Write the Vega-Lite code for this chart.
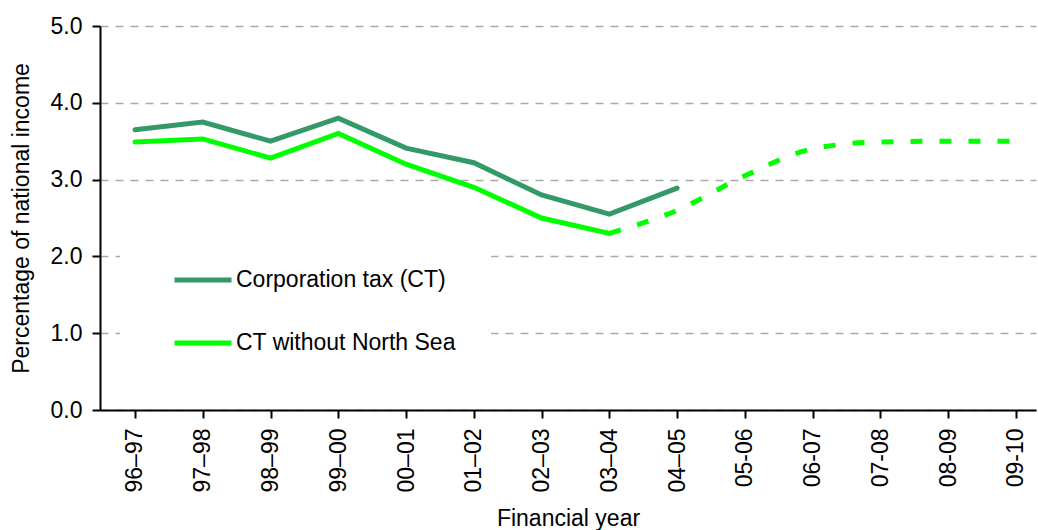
{
  "$schema": "https://vega.github.io/schema/vega-lite/v6.json",
  "autosize": "none",
  "width": 936,
  "height": 384,
  "padding": {"left": 100, "top": 26, "right": 2, "bottom": 120},
  "background": "white",
  "config": {
    "font": "Liberation Sans",
    "view": {"stroke": null},
    "axis": {
      "labelFont": "Liberation Sans",
      "titleFont": "Liberation Sans",
      "labelColor": "black",
      "titleColor": "black",
      "titleFontWeight": "normal",
      "domainColor": "black",
      "domainWidth": 2,
      "tickColor": "black",
      "tickWidth": 2,
      "tickSize": 8
    }
  },
  "datasets": {
    "tax": [
      {"year": "96–97", "series": "Corporation tax (CT)", "value": 3.65},
      {"year": "97–98", "series": "Corporation tax (CT)", "value": 3.75},
      {"year": "98–99", "series": "Corporation tax (CT)", "value": 3.5},
      {"year": "99–00", "series": "Corporation tax (CT)", "value": 3.8},
      {"year": "00–01", "series": "Corporation tax (CT)", "value": 3.41},
      {"year": "01–02", "series": "Corporation tax (CT)", "value": 3.22},
      {"year": "02–03", "series": "Corporation tax (CT)", "value": 2.8},
      {"year": "03–04", "series": "Corporation tax (CT)", "value": 2.55},
      {"year": "04–05", "series": "Corporation tax (CT)", "value": 2.89},
      {"year": "96–97", "series": "CT without North Sea", "value": 3.49},
      {"year": "97–98", "series": "CT without North Sea", "value": 3.53},
      {"year": "98–99", "series": "CT without North Sea", "value": 3.28},
      {"year": "99–00", "series": "CT without North Sea", "value": 3.6},
      {"year": "00–01", "series": "CT without North Sea", "value": 3.2},
      {"year": "01–02", "series": "CT without North Sea", "value": 2.9},
      {"year": "02–03", "series": "CT without North Sea", "value": 2.5},
      {"year": "03–04", "series": "CT without North Sea", "value": 2.3},
      {"year": "03–04", "series": "Projection", "value": 2.3},
      {"year": "04–05", "series": "Projection", "value": 2.6},
      {"year": "05-06", "series": "Projection", "value": 3.05},
      {"year": "06-07", "series": "Projection", "value": 3.4},
      {"year": "07-08", "series": "Projection", "value": 3.49},
      {"year": "08-09", "series": "Projection", "value": 3.5},
      {"year": "09-10", "series": "Projection", "value": 3.5}
    ]
  },
  "data": {"name": "tax"},
  "encoding": {
    "x": {
      "field": "year",
      "type": "ordinal",
      "sort": null,
      "scale": {
        "type": "point",
        "domain": ["96–97", "97–98", "98–99", "99–00", "00–01", "01–02", "02–03", "03–04", "04–05", "05-06", "06-07", "07-08", "08-09", "09-10"],
        "padding": 0.406,
        "align": 0.636
      },
      "axis": {
        "title": "Financial year",
        "titleFontSize": 23,
        "titlePadding": 16,
        "labelFontSize": 23,
        "labelAngle": -90,
        "labelPadding": 10,
        "grid": false
      }
    },
    "y": {
      "field": "value",
      "type": "quantitative",
      "scale": {"domain": [0, 5], "nice": false, "zero": true},
      "axis": {
        "title": "Percentage of national income",
        "titleFontSize": 23,
        "titlePadding": 17,
        "labelFontSize": 23,
        "labelPadding": 10,
        "values": [0, 1, 2, 3, 4, 5],
        "format": ".1f",
        "grid": true,
        "gridColor": "#aaaaaa",
        "gridWidth": 1.5,
        "gridDash": [8, 7]
      }
    }
  },
  "layer": [
    {
      "transform": [{"filter": "datum.series !== 'Projection'"}],
      "mark": {"type": "line", "strokeWidth": 5, "strokeCap": "round"},
      "encoding": {
        "color": {
          "field": "series",
          "type": "nominal",
          "scale": {"domain": ["Corporation tax (CT)", "CT without North Sea"], "range": ["#339966", "#00ff00"]},
          "legend": {
            "title": null,
            "orient": "none",
            "legendX": 20,
            "legendY": 188,
            "zindex": 1,
            "fillColor": "white",
            "padding": 35,
            "symbolType": "stroke",
            "symbolSize": 3249,
            "symbolStrokeWidth": 5,
            "symbolOffset": 17,
            "labelFont": "Liberation Sans",
            "labelFontSize": 23,
            "labelColor": "black",
            "labelOffset": 2,
            "labelLimit": 500,
            "rowPadding": 20
          }
        }
      }
    },
    {
      "transform": [{"filter": "datum.series === 'Projection'"}],
      "mark": {"type": "line", "strokeWidth": 5, "color": "#00ff00", "strokeDash": [12, 17], "interpolate": "monotone"},
      "encoding": {}
    }
  ]
}
